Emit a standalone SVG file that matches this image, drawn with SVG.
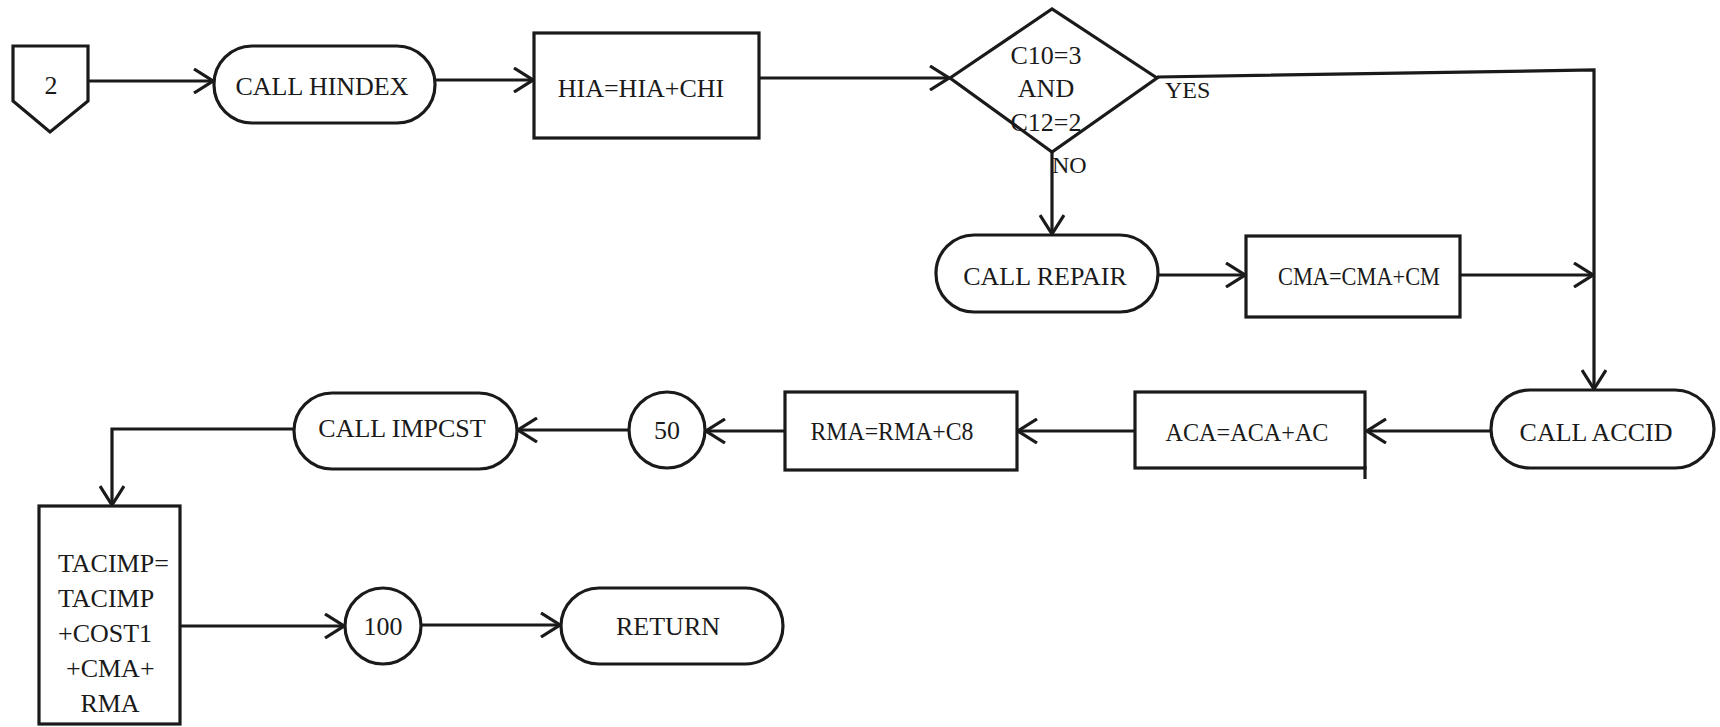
<svg xmlns="http://www.w3.org/2000/svg" width="1720" height="727" viewBox="0 0 1720 727">
<style>
.s{fill:#fff;stroke:#1a1a1a;stroke-width:3.2}
.t{font-family:"Liberation Serif","Times New Roman",serif;font-size:26px;fill:#1a1a1a;text-anchor:middle}
.l{font-family:"Liberation Serif","Times New Roman",serif;font-size:24px;fill:#1a1a1a}
.m{font-family:"Liberation Serif","Times New Roman",serif;font-size:26px;fill:#1a1a1a}
.c{fill:none;stroke:#1a1a1a;stroke-width:3.2;marker-end:url(#a)}
.p{fill:none;stroke:#1a1a1a;stroke-width:3.2}
</style>
<defs>
<marker id="a" viewBox="0 0 22 26" refX="20" refY="13" markerWidth="22" markerHeight="26" markerUnits="userSpaceOnUse" orient="auto">
<path d="M1,1 L20,13 L1,25" fill="none" stroke="#1a1a1a" stroke-width="3.2"/>
</marker>
</defs>
<rect width="1720" height="727" fill="#fff"/>
<g id="connectors">
<path class="c" d="M88,81 L213,81"/>
<path class="c" d="M435,80 L533,80"/>
<path class="c" d="M759,78 L949,78"/>
<path class="c" d="M1157,77 L1594,70 L1594,389"/>
<path class="c" d="M1052,152 L1052,234"/>
<path class="c" d="M1158,275 L1245,275"/>
<path class="c" d="M1460,275 L1593,275"/>
<path class="c" d="M1490,431 L1367,431"/>
<path class="c" d="M1135,431 L1018,431"/>
<path class="c" d="M785,431 L706,431"/>
<path class="c" d="M629,430 L518,430"/>
<path class="c" d="M294,429 L112,429 L112,505"/>
<path class="c" d="M181,626 L344,626"/>
<path class="c" d="M421,625 L560,625"/>
</g>
<g id="n2">
<polygon class="s" points="13,46 88,46 88,101 50,132 13,101"/>
<text class="t" x="51" y="94">2</text>
</g>
<g id="hindex">
<rect class="s" x="214" y="46" width="221" height="77" rx="38" ry="38"/>
<text class="t" x="322" y="95">CALL HINDEX</text>
</g>
<g id="hia">
<rect class="s" x="534" y="33" width="225" height="105"/>
<text class="t" x="641" y="97">HIA=HIA+CHI</text>
</g>
<g id="decision">
<polygon class="s" points="950,78 1052,9 1157,78 1052,152"/>
<text class="t" x="1046" y="64">C10=3</text>
<text class="t" x="1046" y="97">AND</text>
<text class="t" x="1046" y="131">C12=2</text>
<text class="l" x="1165" y="98">YES</text>
<text class="l" x="1052" y="173">NO</text>
</g>
<g id="repair">
<rect class="s" x="936" y="235" width="222" height="77" rx="38" ry="38"/>
<text class="t" x="1045" y="285">CALL REPAIR</text>
</g>
<g id="cma">
<rect class="s" x="1246" y="236" width="214" height="81"/>
<text class="t" x="1359" y="285" textLength="162" lengthAdjust="spacingAndGlyphs">CMA=CMA+CM</text>
</g>
<g id="accid">
<rect class="s" x="1491" y="390" width="223" height="78" rx="39" ry="39"/>
<text class="t" x="1596" y="441">CALL ACCID</text>
</g>
<g id="aca">
<rect class="s" x="1135" y="392" width="230" height="76"/>
<line class="p" x1="1365" y1="466" x2="1365" y2="479"/>
<text class="t" x="1247" y="441" textLength="163" lengthAdjust="spacingAndGlyphs">ACA=ACA+AC</text>
</g>
<g id="rma">
<rect class="s" x="785" y="392" width="232" height="78"/>
<text class="t" x="892" y="440" textLength="163" lengthAdjust="spacingAndGlyphs">RMA=RMA+C8</text>
</g>
<g id="c50">
<ellipse class="s" cx="667" cy="430" rx="38" ry="38"/>
<text class="t" x="667" y="439">50</text>
</g>
<g id="impcst">
<rect class="s" x="294" y="393" width="223" height="76" rx="38" ry="38"/>
<text class="t" x="402" y="437">CALL IMPCST</text>
</g>
<g id="tacimp">
<rect class="s" x="39" y="506" width="141" height="218"/>
<text class="m" x="58" y="572">TACIMP=</text>
<text class="m" x="58" y="607">TACIMP</text>
<text class="m" x="58" y="642">+COST1</text>
<text class="m" x="66" y="677">+CMA+</text>
<text class="t" x="110" y="712">RMA</text>
</g>
<g id="c100">
<ellipse class="s" cx="383" cy="626" rx="38" ry="38"/>
<text class="t" x="383" y="635">100</text>
</g>
<g id="return">
<rect class="s" x="561" y="588" width="222" height="76" rx="38" ry="38"/>
<text class="t" x="668" y="635">RETURN</text>
</g>
</svg>
